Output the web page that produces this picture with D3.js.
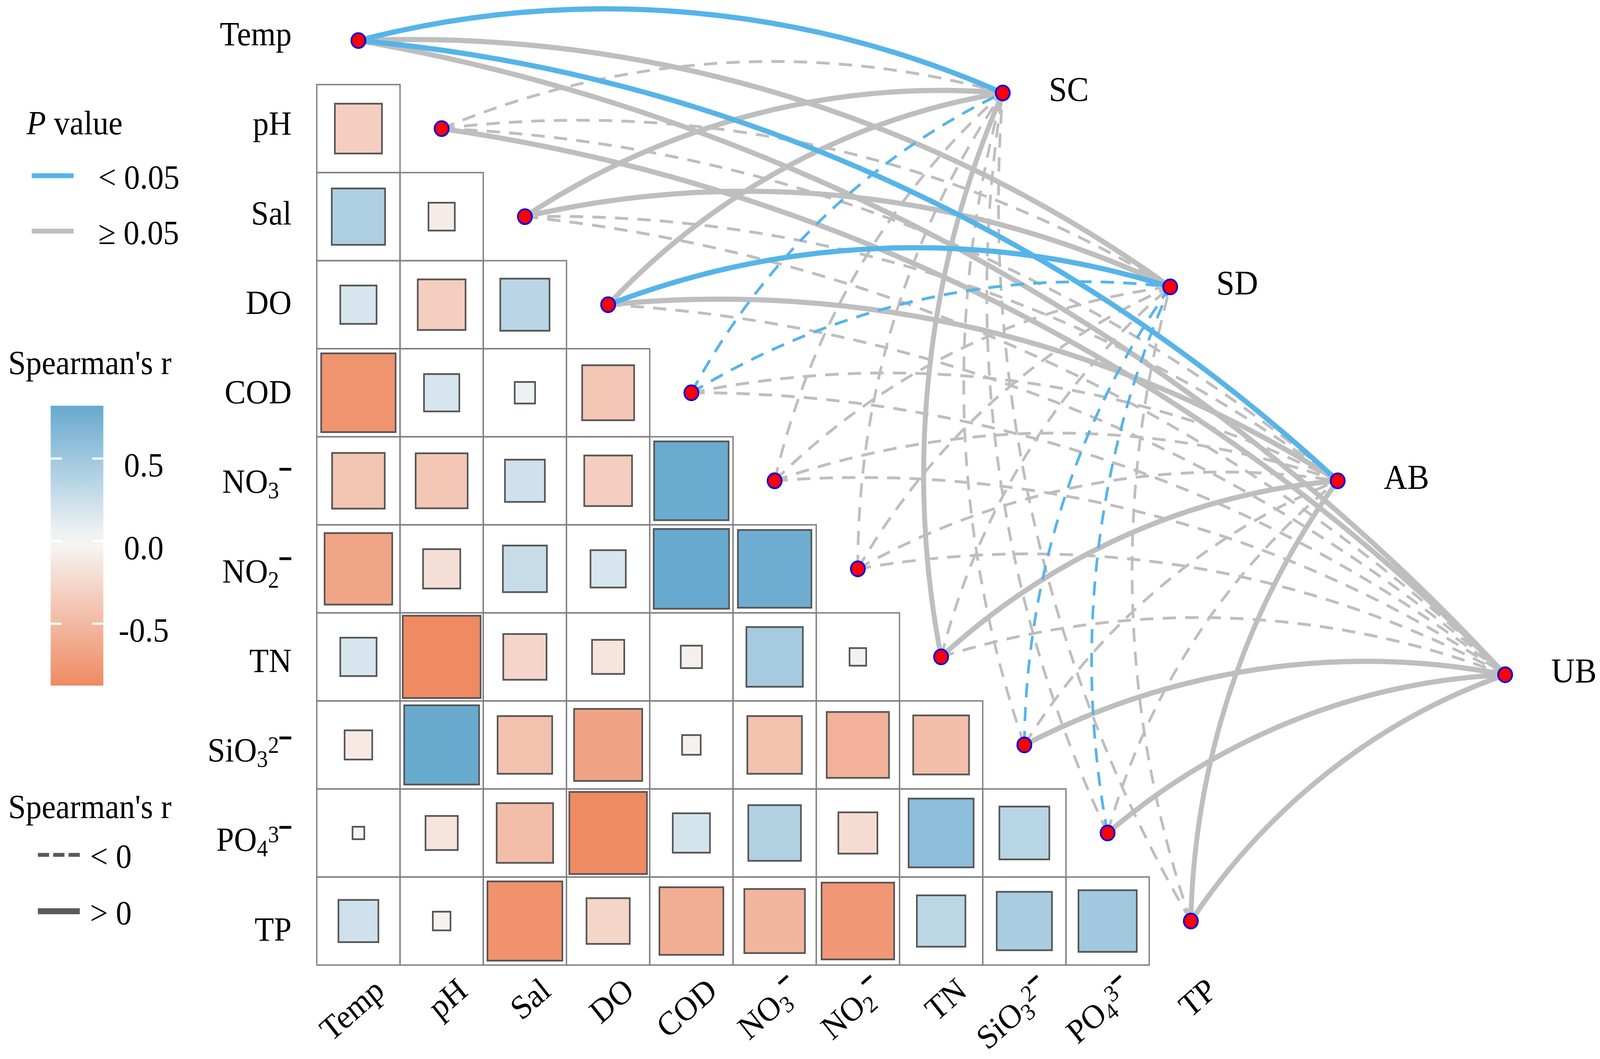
<!DOCTYPE html>
<html>
<head>
<meta charset="utf-8">
<script src="https://cdn.jsdelivr.net/npm/d3@7"></script>
<style>
  html, body { margin: 0; padding: 0; background: #fff; overflow: hidden; }
  svg { display: block; width: 100vw; height: 100vh; }
  text { font-family: "Liberation Serif", "Times New Roman", serif; fill: #000; }
</style>
</head>
<body>
<script>
// environmental variables (matrix rows / columns)
const vars = ['Temp', 'pH', 'Sal', 'DO', 'COD', 'NO3', 'NO2', 'TN', 'SiO3', 'PO4', 'TP'];
const labelBase = ['Temp', 'pH', 'Sal', 'DO', 'COD', 'NO', 'NO', 'TN', 'SiO', 'PO', 'TP'];
const labelSub = ['', '', '', '', '', '3', '2', '', '3', '4', ''];
const labelSup = ['', '', '', '', '', '', '', '', '2', '3', ''];
const labelMinus = [0, 0, 0, 0, 0, 1, 1, 0, 1, 1, 0];

// Spearman's r, lower triangle, row i has columns 0..i-1
const corRows = [
  [],
  [-0.32],
  [0.41, -0.10],
  [0.19, -0.33, 0.35],
  [-0.80, 0.18, 0.06, -0.39],
  [-0.40, -0.39, 0.23, -0.33, 0.80],
  [-0.66, -0.20, 0.28, 0.18, 0.82, 0.78],
  [0.19, -0.875, -0.27, -0.15, -0.065, 0.46, 0.04],
  [-0.11, 0.81, -0.43, -0.67, -0.05, -0.43, -0.56, -0.45],
  [-0.02, -0.15, -0.46, -0.87, 0.20, 0.40, -0.22, 0.61, 0.36],
  [0.23, -0.045, -0.81, -0.27, -0.59, -0.53, -0.76, 0.34, 0.44, 0.49]
];

// community groups and links (sign of r, p < 0.05)
const groups = ['SC', 'SD', 'AB', 'UB'];
const linkSign = [
  [1, 1, 1, 1],
  [-1, -1, -1, 1],
  [1, 1, -1, -1],
  [1, 1, 1, -1],
  [-1, -1, -1, -1],
  [-1, -1, -1, -1],
  [-1, -1, -1, -1],
  [1, -1, 1, -1],
  [-1, -1, -1, 1],
  [-1, -1, -1, 1],
  [-1, -1, 1, 1]
];
const linkSig = [
  [1, 0, 1, 0],
  [0, 0, 0, 0],
  [0, 0, 0, 0],
  [0, 1, 0, 0],
  [1, 1, 0, 0],
  [0, 0, 0, 0],
  [0, 0, 0, 0],
  [0, 0, 0, 0],
  [0, 1, 0, 0],
  [0, 1, 0, 0],
  [0, 0, 0, 0]
];

const cbTicks = [0.5, 0, -0.5];

const VW = 1563.7, VH = 976.2;
const fs = 31;

// the frame is filled edge to edge, like the reference image
const svg = d3.select('body').append('svg')
  .attr('viewBox', `0 0 ${VW} ${VH}`)
  .attr('preserveAspectRatio', 'none');

const x = d3.scaleBand().domain(vars).range([309.6, 1204.5]);
const y = d3.scaleBand().domain(vars).range([-3.2, 889.6]);
const bw = x.bandwidth(), bh = y.bandwidth();
const rowLabelY = d3.scaleLinear().domain([0, vars.length - 1]).range([41.8, 867]);

const allR = corRows.flat();
const rExt = d3.extent(allR);
const color = d3.scaleLinear()
  .domain([rExt[0], 0, rExt[1]])
  .range(['#EF8A62', '#F7F7F7', '#67A9CF']);

function addLabel(sel, i) {
  sel.append('tspan').text(labelBase[i]);
  if (labelSub[i]) sel.append('tspan').attr('font-size', fs * 0.7).attr('dy', fs * 0.16).text(labelSub[i]);
  if (labelSup[i]) sel.append('tspan').attr('font-size', fs * 0.7).attr('dy', -fs * 0.42).text(labelSup[i]);
  if (labelMinus[i]) {
    sel.append('tspan').attr('font-size', fs * 0.7)
      .attr('dy', labelSup[i] ? -fs * 0.21 : -fs * 0.63)
      .attr('stroke', '#000').attr('stroke-width', 1.5)
      .text('\u2212');
  }
}

// matrix cells
const cells = [];
corRows.forEach((row, i) => row.forEach((r, j) => cells.push({ row: vars[i], col: vars[j], r })));

svg.append('g').selectAll('rect')
  .data(cells).enter().append('rect')
  .attr('x', d => x(d.col))
  .attr('y', d => y(d.row))
  .attr('width', bw).attr('height', bh)
  .attr('fill', 'none')
  .attr('stroke', '#808080')
  .attr('stroke-width', 1.3);

svg.append('g').selectAll('rect')
  .data(cells).enter().append('rect')
  .attr('x', d => x(d.col) + bw / 2 - Math.sqrt(Math.abs(d.r)) * bw / 2)
  .attr('y', d => y(d.row) + bh / 2 - Math.sqrt(Math.abs(d.r)) * bh / 2)
  .attr('width', d => Math.sqrt(Math.abs(d.r)) * bw)
  .attr('height', d => Math.sqrt(Math.abs(d.r)) * bh)
  .attr('fill', d => color(d.r))
  .attr('stroke', '#555')
  .attr('stroke-width', 1.6);

// links
const tx = d3.scaleLinear().domain([0, groups.length - 1]).range([980, 1471]);
const ty = d3.scaleLinear().domain([0, groups.length - 1]).range([85.7, 622]);
const envPos = i => [x(vars[i]) + bw / 2, y(vars[i]) + bh / 2];

const links = [];
vars.forEach((v, i) => groups.forEach((g, j) => {
  links.push({ s: envPos(i), t: [tx(j), ty(j)], sign: linkSign[i][j], sig: linkSig[i][j] });
}));
links.sort((a, b) => a.sig - b.sig);

function arcPath(d) {
  const L = Math.hypot(d.t[0] - d.s[0], d.t[1] - d.s[1]);
  const c = 0.08;
  const R = L / (8 * c) + c * L / 2;
  return `M${d.s[0]},${d.s[1]}A${R},${R} 0 0 1 ${d.t[0]},${d.t[1]}`;
}

svg.append('g').selectAll('path')
  .data(links).enter().append('path')
  .attr('d', arcPath)
  .attr('fill', 'none')
  .attr('stroke', d => d.sig ? '#56B4E9' : '#BEBEBE')
  .attr('stroke-width', d => d.sign > 0 ? 4.8 : 2.6)
  .attr('stroke-dasharray', d => d.sign > 0 ? null : '13,9');

// nodes
svg.append('g').selectAll('circle')
  .data(vars).enter().append('circle')
  .attr('cx', (d, i) => envPos(i)[0])
  .attr('cy', (d, i) => envPos(i)[1])
  .attr('r', 6.9)
  .attr('fill', '#FF0000')
  .attr('stroke', '#0000EE')
  .attr('stroke-width', 1.6);

svg.append('g').selectAll('circle')
  .data(groups).enter().append('circle')
  .attr('cx', (d, j) => tx(j))
  .attr('cy', (d, j) => ty(j))
  .attr('r', 6.9)
  .attr('fill', '#FF0000')
  .attr('stroke', '#0000EE')
  .attr('stroke-width', 1.6);

svg.append('g').selectAll('text')
  .data(groups).enter().append('text')
  .attr('x', (d, j) => tx(j) + 45)
  .attr('y', (d, j) => ty(j) + 7)
  .attr('font-size', 32)
  .text(d => d);

// row labels
vars.forEach((v, i) => {
  const t = svg.append('text')
    .attr('x', 285).attr('y', rowLabelY(i))
    .attr('text-anchor', 'end')
    .attr('font-size', fs);
  addLabel(t, i);
});

// column labels
vars.forEach((v, i) => {
  const cx = x(v) + bw / 2;
  const t = svg.append('text')
    .attr('transform', `translate(${cx + 27},916) rotate(-40)`)
    .attr('text-anchor', 'end')
    .attr('font-size', fs);
  addLabel(t, i);
});

// legend: P value
const lg = svg.append('g');
const pt = lg.append('text').attr('x', 26).attr('y', 124).attr('font-size', fs);
pt.append('tspan').attr('font-style', 'italic').text('P');
pt.append('tspan').text(' value');

lg.append('line').attr('x1', 31).attr('x2', 72).attr('y1', 162).attr('y2', 162)
  .attr('stroke', '#56B4E9').attr('stroke-width', 4.5);
lg.append('text').attr('x', 96).attr('y', 174).attr('font-size', fs).text('< 0.05');
lg.append('line').attr('x1', 31).attr('x2', 72).attr('y1', 213).attr('y2', 213)
  .attr('stroke', '#BEBEBE').attr('stroke-width', 4.5);
lg.append('text').attr('x', 96).attr('y', 225).attr('font-size', fs).text('\u2265 0.05');

// legend: colour bar
lg.append('text').attr('x', 8).attr('y', 345).attr('font-size', fs).text("Spearman's r");

const cb = d3.scaleLinear().domain(rExt).range([632, 374]);
const grad = svg.append('defs').append('linearGradient')
  .attr('id', 'cbgrad').attr('x1', 0).attr('x2', 0).attr('y1', 1).attr('y2', 0);
d3.range(0, 1.0001, 0.05).forEach(f => {
  const v = rExt[0] + f * (rExt[1] - rExt[0]);
  grad.append('stop').attr('offset', f).attr('stop-color', color(v));
});
lg.append('rect').attr('x', 49.5).attr('y', cb(rExt[1]))
  .attr('width', 51.5).attr('height', cb(rExt[0]) - cb(rExt[1]))
  .attr('fill', 'url(#cbgrad)');
cbTicks.forEach(v => {
  lg.append('line').attr('x1', 49.5).attr('x2', 60.3).attr('y1', cb(v)).attr('y2', cb(v))
    .attr('stroke', '#fff').attr('stroke-width', 2);
  lg.append('line').attr('x1', 90.2).attr('x2', 101).attr('y1', cb(v)).attr('y2', cb(v))
    .attr('stroke', '#fff').attr('stroke-width', 2);
  lg.append('text').attr('x', 140.5).attr('y', cb(v) + 16.5)
    .attr('text-anchor', 'middle').attr('font-size', fs)
    .text(d3.format('.1f')(v).replace('\u2212', '-'));
});

// legend: sign of r
lg.append('text').attr('x', 8).attr('y', 754).attr('font-size', fs).text("Spearman's r");
lg.append('line').attr('x1', 37).attr('x2', 78).attr('y1', 788).attr('y2', 788)
  .attr('stroke', '#5A5A5A').attr('stroke-width', 3.6).attr('stroke-dasharray', '11,4');
lg.append('text').attr('x', 88).attr('y', 800).attr('font-size', fs).text('< 0');
lg.append('line').attr('x1', 37).attr('x2', 78).attr('y1', 840).attr('y2', 840)
  .attr('stroke', '#5A5A5A').attr('stroke-width', 5.5);
lg.append('text').attr('x', 88).attr('y', 852).attr('font-size', fs).text('> 0');
</script>
</body>
</html>
